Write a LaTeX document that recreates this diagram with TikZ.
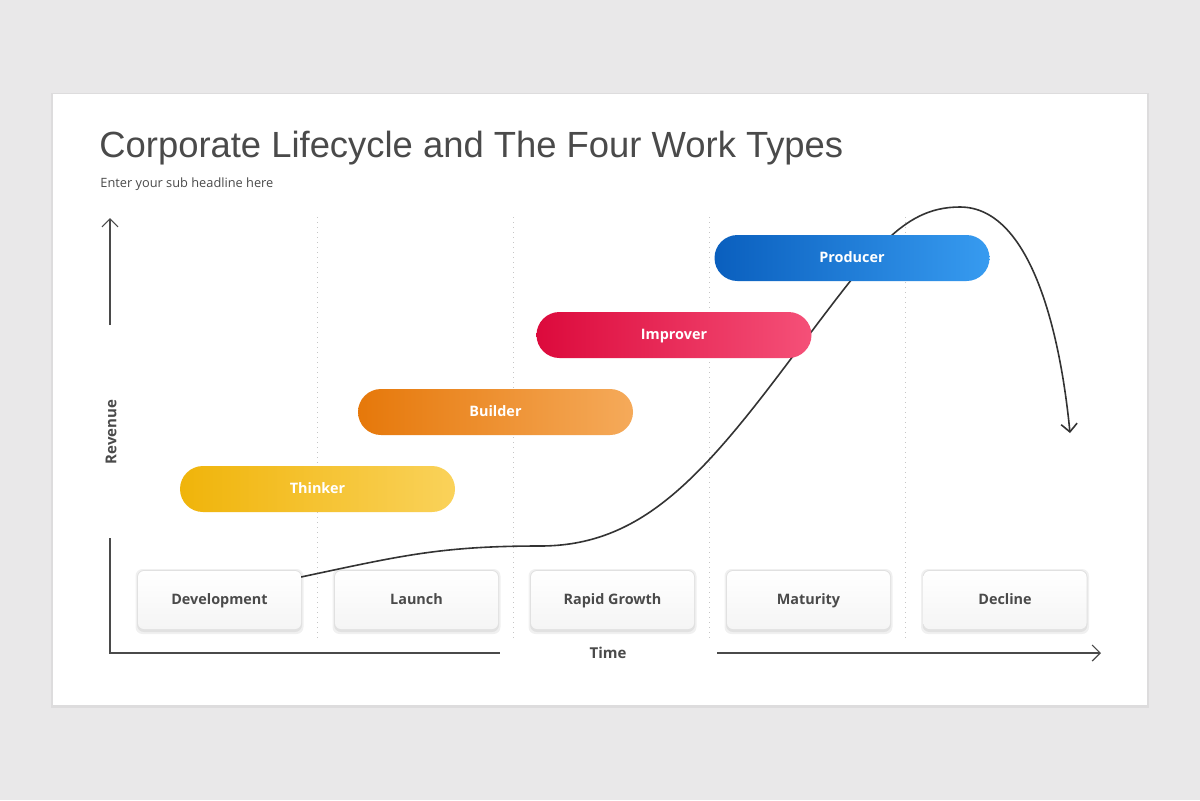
\documentclass[tikz,border=0pt]{standalone}
\usepackage{fontspec}
\setmainfont{Open Sans}
\newfontfamily\titlefont{Liberation Sans}
\usetikzlibrary{arrows.meta}
\definecolor{bg}{HTML}{E9E8E9}
\definecolor{txt}{HTML}{4A4A4A}
\tikzset{
 pill/.style={rounded corners=11.5pt,minimum width=137.5pt,minimum height=23pt,font=\bfseries\fontsize{7.2}{8}\selectfont,text=white,inner sep=0,text height=5.5pt,text depth=1.5pt},
 stage/.style={rounded corners=3pt,minimum width=81.5pt,minimum height=29pt,inner sep=0,top color=white,bottom color=gray!8,font=\bfseries\fontsize{7.2}{8}\selectfont,text=txt,text height=5.5pt,text depth=1.5pt},
 stshadow/.style={rounded corners=3.5pt,fill=black,fill opacity=0.06},
 sep/.style={gray!45,dotted,line width=0.5pt},
 axis/.style={txt,line width=0.6pt},
}
\begin{document}
\begin{tikzpicture}[x=0.5pt,y=-0.5pt]
\fill[bg] (0,0) rectangle (1200,800);
\fill[black,opacity=0.05] (51,93) rectangle (1149,708);
\fill[white] (53,94) rectangle (1147,705);
\node[anchor=base west,text=txt,font=\titlefont\fontsize{18.2}{20}\selectfont,inner sep=0] (title) at (99,157) {Corporate Lifecycle and The Four Work Types};
\node[anchor=west,text=txt,font=\fontsize{6.4}{8}\selectfont,inner sep=0] (sub) at (100,184) {Enter your sub headline here};
\foreach \x in {317,513,709,905} \draw[sep] (\x,217) -- (\x,641);
\coordinate (cend) at (1070,433);
\draw[line width=0.8pt,black!80,-{Straight Barb[length=4pt]}] (301,577) .. controls (400,556) and (440,546) .. (540,546) .. controls (640,546) and (700,480) .. (790,360) .. controls (870,255) and (900,207) .. (960,207) .. controls (1030,207) and (1060,330) .. (cend);
\node[pill,left color={rgb,255:red,240;green,180;blue,10},right color={rgb,255:red,250;green,210;blue,90}] (thinker) at (317.5,489) {Thinker};
\node[pill,left color={rgb,255:red,230;green,120;blue,10},right color={rgb,255:red,245;green,170;blue,90}] (builder) at (495.5,412) {Builder};
\node[pill,left color={rgb,255:red,220;green,10;blue,60},right color={rgb,255:red,245;green,80;blue,120}] (improver) at (674,335) {Improver};
\node[pill,left color={rgb,255:red,10;green,95;blue,190},right color={rgb,255:red,55;green,155;blue,240}] (producer) at (852,258) {Producer};
\foreach \cx in {219.5,416.5,612.5,808.5,1005} {
  \fill[stshadow] (\cx-84,569) rectangle (\cx+84,634);
  \fill[stshadow] (\cx-82.5,570) rectangle (\cx+82.5,632);
}
\node[stage] (dev) at (219.5,600) {Development};
\node[stage] (launch) at (416.5,600) {Launch};
\node[stage] (rapid) at (612.5,600) {Rapid Growth};
\node[stage] (mat) at (808.5,600) {Maturity};
\node[stage] (dec) at (1005,600) {Decline};
\coordinate (ytop) at (110,218);
\coordinate (ybrk) at (110,325);
\coordinate (ybot) at (110,538);
\coordinate (origin) at (110,653);
\coordinate (xbrk) at (500,653);
\coordinate (xstart) at (717,653);
\coordinate (xend) at (1101,653);
\draw[axis,-{Straight Barb[length=4pt]}] (ybrk) -- (ytop);
\draw[axis] (ybot) -- (origin) -- (xbrk);
\draw[axis,-{Straight Barb[length=4pt]}] (xstart) -- (xend);
\node[rotate=90,text=txt,font=\bfseries\fontsize{7.5}{8}\selectfont] (rev) at (111,432) {Revenue};
\node[text=txt,font=\bfseries\fontsize{7.5}{8}\selectfont] (time) at (608,653) {Time};
\end{tikzpicture}
\end{document}
